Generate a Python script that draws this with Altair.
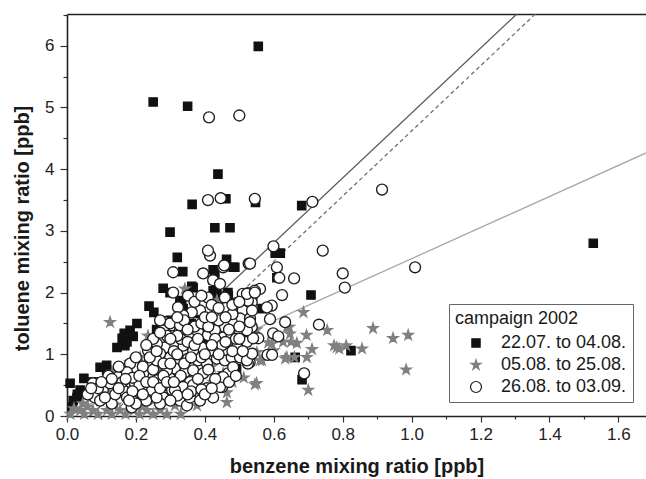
import altair as alt
import pandas as pd

# ---------------- data ----------------
periods = ["22.07. to 04.08.", "05.08. to 25.08.", "26.08. to 03.09."]

squares = [
    (0.555, 5.99), (0.25, 5.09), (0.35, 5.02), (0.438, 3.92), (0.363, 3.43), (0.461, 3.52),
    (0.547, 3.46), (0.681, 3.41), (0.299, 2.98), (0.429, 3.05), (0.473, 3.05), (1.527, 2.80),
    (0.824, 1.06), (0.604, 2.64), (0.619, 2.64), (0.609, 2.24), (0.708, 1.96), (0.566, 1.74),
    (0.682, 0.59), (0.662, 0.95), (0.009, 0.53), (0.049, 0.61), (0.038, 0.42), (0.03, 0.35),
    (0.08, 0.55), (0.096, 0.79), (0.115, 0.82), (0.145, 1.11), (0.16, 1.26), (0.166, 1.34),
    (0.183, 1.39), (0.203, 1.5), (0.192, 1.29), (0.168, 1.14), (0.238, 1.78), (0.252, 1.68),
    (0.279, 2.07), (0.32, 2.57), (0.336, 2.34), (0.333, 1.85), (0.337, 1.74), (0.366, 2.08),
    (0.424, 2.37), (0.424, 2.03), (0.463, 2.54), (0.487, 2.41), (0.507, 1.91), (0.468, 1.95),
    (0.386, 1.66), (0.44, 1.66), (0.417, 0.35), (0.492, 0.77), (0.468, 0.95), (0.429, 2.31),
    (0.424, 2.2), (0.299, 2.0), (0.328, 1.82), (0.115, 0.74), (0.072, 0.55), (0.029, 0.30),
    (0.018, 0.25), (0.015, 0.15), (0.174, 1.20), (0.482, 2.41), (0.362, 2.1), (0.328, 1.87),
    (0.334, 1.71), (0.30, 1.55), (0.36, 1.5), (0.45, 1.45), (0.26, 1.4), (0.5, 1.5),
    (0.40, 1.2), (0.435, 1.98), (0.467, 2.0),
]

stars = [
    (0.755, 1.39), (0.888, 1.42), (0.946, 1.26), (0.99, 1.31), (0.775, 1.14), (0.79, 1.09),
    (0.81, 1.14), (0.856, 1.09), (0.984, 0.75), (0.686, 1.68), (0.695, 1.31), (0.645, 1.44),
    (0.627, 1.20), (0.667, 1.18), (0.711, 1.08), (0.696, 0.95), (0.633, 0.93), (0.594, 1.17),
    (0.56, 0.90), (0.513, 0.62), (0.545, 0.51), (0.70, 0.42), (0.66, 0.95), (0.125, 1.52),
    (0.313, 0.17), (0.377, 0.17), (0.464, 0.22), (0.55, 0.53), (0.386, 0.37), (0.424, 0.55),
    (0.44, 0.48), (0.48, 0.55), (0.464, 0.38), (0.638, 1.44), (0.65, 1.2), (0.584, 1.19),
    (0.6, 1.06), (0.783, 1.11), (0.551, 1.03), (0.566, 0.9), (0.638, 0.95), (0.453, 0.69),
    (0.647, 1.33), (0.235, 1.30), (0.212, 0.95), (0.183, 0.87), (0.134, 0.71), (0.11, 0.58),
    (0.087, 0.42), (0.067, 0.3), (0.046, 0.2), (0.038, 0.09), (0.075, 0.09), (0.116, 0.09),
    (0.154, 0.09), (0.193, 0.09), (0.232, 0.09), (0.27, 0.09), (0.096, 0.25), (0.134, 0.3),
    (0.174, 0.36), (0.212, 0.53), (0.164, 0.5), (0.116, 0.45), (0.25, 0.25), (0.27, 0.69),
    (0.01, 0.03), (0.05, 0.03), (0.09, 0.03), (0.13, 0.03), (0.17, 0.03), (0.21, 0.03),
    (0.25, 0.03), (0.29, 0.03), (0.33, 0.03), (0.02, 0.12), (0.06, 0.15), (0.14, 0.18),
    (0.35, 0.6), (0.42, 0.8), (0.46, 0.9), (0.38, 1.0), (0.5, 1.1), (0.3, 0.45),
    (0.47, 1.2), (0.52, 1.3), (0.55, 1.4), (0.43, 1.55), (0.5, 1.7), (0.342, 2.06),
    (0.435, 1.87), (0.28, 0.35), (0.22, 0.15), (0.31, 0.3),
]

circles = [
    (0.412, 4.84), (0.5, 4.87), (0.409, 3.5), (0.446, 3.53), (0.545, 3.52), (0.712, 3.47),
    (0.914, 3.67), (0.742, 2.68), (1.01, 2.41), (0.80, 2.31), (0.806, 2.08), (0.599, 2.75),
    (0.609, 2.41), (0.616, 2.24), (0.659, 2.23), (0.527, 2.47), (0.624, 1.96), (0.594, 1.79),
    (0.58, 1.76), (0.589, 1.57), (0.633, 1.52), (0.731, 1.48), (0.598, 1.34), (0.613, 1.29),
    (0.582, 0.99), (0.595, 0.99), (0.688, 0.69), (0.56, 2.06), (0.545, 2.03), (0.536, 1.92),
    (0.525, 1.99), (0.555, 1.26), (0.536, 1.44), (0.52, 1.55), (0.53, 0.87),
    (0.415, 2.6), (0.409, 2.68), (0.308, 2.33), (0.395, 2.31), (0.453, 2.41), (0.456, 2.44),
    (0.424, 2.2), (0.444, 2.14), (0.308, 2.0), (0.351, 1.95), (0.409, 1.92), (0.458, 1.92),
    (0.487, 1.82), (0.51, 1.98), (0.536, 1.84), (0.51, 1.71), (0.502, 1.58), (0.531, 1.58),
    (0.478, 1.52), (0.458, 1.44), (0.435, 1.66), (0.406, 1.55), (0.386, 1.71), (0.362, 1.68),
    (0.337, 1.63), (0.322, 1.76), (0.305, 1.47), (0.284, 1.52), (0.328, 1.39), (0.357, 1.31),
    (0.38, 1.36), (0.409, 1.31), (0.429, 1.39), (0.453, 1.27), (0.478, 1.31), (0.502, 1.36),
    (0.522, 1.2), (0.493, 1.11), (0.464, 1.06), (0.438, 1.11), (0.415, 1.06), (0.391, 1.11),
    (0.366, 1.06), (0.337, 1.14), (0.308, 1.17), (0.284, 1.11), (0.299, 0.95), (0.328, 0.90),
    (0.351, 0.93), (0.38, 0.90), (0.406, 0.85), (0.435, 0.93), (0.458, 0.90), (0.478, 0.95),
    (0.507, 0.95), (0.525, 0.85), (0.313, 0.77), (0.342, 0.71), (0.366, 0.74), (0.395, 0.69),
    (0.45, 0.63), (0.467, 0.69), (0.328, 0.58), (0.357, 0.55), (0.299, 0.61), (0.284, 0.50),
    (0.337, 0.47), (0.366, 0.50), (0.45, 0.47), (0.305, 0.42),
    (0.075, 0.53), (0.081, 0.30), (0.104, 0.42), (0.13, 0.20), (0.125, 0.53), (0.148, 0.63),
    (0.163, 0.42), (0.183, 0.85), (0.174, 0.71), (0.197, 0.53), (0.212, 0.37), (0.221, 0.69),
    (0.241, 0.87), (0.235, 1.06), (0.261, 1.17), (0.27, 1.01), (0.261, 0.58), (0.247, 0.42),
    (0.279, 0.30), (0.29, 0.74), (0.279, 1.39), (0.299, 1.5), (0.328, 1.47), (0.174, 0.30),
    (0.188, 0.14), (0.096, 0.25), (0.313, 0.42), (0.328, 0.25), (0.348, 0.17), (0.357, 0.30),
    (0.386, 0.25), (0.424, 0.30), (0.406, 0.45), (0.444, 0.47), (0.453, 0.63), (0.482, 0.79),
    (0.502, 0.95), (0.522, 0.90), (0.537, 1.01), (0.54, 1.26), (0.522, 1.39), (0.531, 1.52),
    (0.537, 1.71), (0.525, 1.87), (0.522, 1.98), (0.545, 2.0), (0.531, 2.47),
    (0.2, 0.95), (0.22, 0.8), (0.25, 0.75), (0.26, 0.9), (0.28, 0.85), (0.31, 1.05),
    (0.33, 1.25), (0.35, 1.2), (0.37, 1.45), (0.39, 1.5), (0.41, 1.45), (0.43, 1.25),
    (0.45, 1.15), (0.47, 1.4), (0.49, 1.25), (0.39, 0.95), (0.41, 0.75), (0.43, 0.6),
    (0.38, 0.6), (0.36, 0.4), (0.39, 0.43), (0.32, 0.33), (0.27, 0.2), (0.23, 0.25),
    (0.21, 0.5), (0.16, 0.55), (0.14, 0.35), (0.11, 0.3), (0.19, 0.62), (0.2, 0.2),
    (0.26, 0.3), (0.3, 0.25), (0.34, 1.55), (0.37, 1.85), (0.39, 1.95), (0.42, 1.8),
    (0.46, 1.75), (0.48, 1.65), (0.5, 1.45), (0.44, 1.55), (0.32, 1.3), (0.29, 1.3),
    (0.27, 1.55), (0.25, 1.25), (0.23, 1.15),
    (0.06, 0.35), (0.09, 0.45), (0.12, 0.65), (0.15, 0.8), (0.17, 0.6), (0.19, 0.4),
    (0.21, 0.65), (0.23, 0.55), (0.24, 0.95), (0.26, 1.05), (0.28, 0.65), (0.3, 0.85),
    (0.32, 1.0), (0.34, 0.85), (0.36, 0.95), (0.37, 1.15), (0.4, 1.0), (0.42, 1.15),
    (0.44, 1.0), (0.46, 1.2), (0.48, 1.05), (0.5, 1.25), (0.51, 1.05), (0.38, 1.25),
    (0.4, 1.6), (0.42, 1.6), (0.44, 1.75), (0.46, 1.6), (0.48, 1.8), (0.5, 1.85),
    (0.35, 1.4), (0.32, 1.6), (0.3, 1.25), (0.27, 1.35), (0.25, 0.55), (0.27, 0.45),
    (0.29, 0.55), (0.33, 0.65), (0.35, 0.35), (0.4, 0.35), (0.42, 0.45), (0.47, 0.55),
    (0.49, 0.65), (0.31, 0.55), (0.22, 0.35), (0.18, 0.25), (0.15, 0.45), (0.13, 0.6),
    (0.1, 0.55), (0.07, 0.45),
]

# regression lines: slope, intercept
fit_names = ["fit solid", "fit dashed", "fit light"]
fit_slopes = [5.26, 5.28, 2.52]
fit_intercepts = [-0.35, -0.66, 0.03]

x_ticks_major = [0.0, 0.2, 0.4, 0.6, 0.8, 1.0, 1.2, 1.4, 1.6]
x_ticks_minor = [0.1, 0.3, 0.5, 0.7, 0.9, 1.1, 1.3, 1.5]
y_ticks_major = [0, 1, 2, 3, 4, 5, 6]
y_ticks_minor = [0.5, 1.5, 2.5, 3.5, 4.5, 5.5, 6.5]

X_MAX = 1.68
Y_MAX = 6.515

# ---------------- build tables ----------------
rows = []
for label, pts in zip(periods, [squares, stars, circles]):
    for x, y in pts:
        rows.append({"x": x, "y": y, "period": label})
df = pd.DataFrame(rows)

def line_df(m, b):
    x0 = max(0.0, -b / m)
    x1 = min(X_MAX, (Y_MAX - b) / m)
    return pd.DataFrame({"x": [x0, x1], "y": [m * x0 + b, m * x1 + b]})

l_solid = line_df(fit_slopes[0], fit_intercepts[0])
l_dash = line_df(fit_slopes[1], fit_intercepts[1])
l_light = line_df(fit_slopes[2], fit_intercepts[2])

xs = alt.Scale(domain=[0, X_MAX], nice=False, zero=False)
ys = alt.Scale(domain=[0, Y_MAX], nice=False, zero=False)

STAR = ("M0,-1.1L0.247,-0.34L1.046,-0.34L0.4,0.13L0.647,0.89L0,0.42"
        "L-0.647,0.89L-0.4,0.13L-1.046,-0.34L-0.247,-0.34Z")

FONT = "Liberation Sans"

minor_x = alt.Axis(orient="bottom", values=x_ticks_minor, labels=False, tickSize=3,
                   domain=False, grid=False, title=None, tickColor="#333", tickWidth=1.2)
minor_y = alt.Axis(orient="left", values=y_ticks_minor, labels=False, tickSize=4,
                   domain=False, grid=False, title=None, tickColor="#333", tickWidth=1.2)

top_x = alt.Axis(orient="top", labels=False, ticks=False, domain=True, grid=False,
                 title=None, domainColor="#222", domainWidth=1.6)

L1 = alt.Chart(l_solid).mark_line(color="#5a5a5a", strokeWidth=1.3, clip=True).encode(
    x=alt.X("x:Q", scale=xs, axis=minor_x),
    y=alt.Y("y:Q", scale=ys, axis=minor_y),
)
L2 = alt.Chart(l_dash).mark_line(color="#707070", strokeWidth=1.3, strokeDash=[4, 3], clip=True).encode(
    x=alt.X("x:Q", scale=xs, axis=top_x),
    y=alt.Y("y:Q", scale=ys, axis=None),
)
L3 = alt.Chart(l_light).mark_line(color="#a8a8a8", strokeWidth=1.3, clip=True).encode(
    x=alt.X("x:Q", scale=xs, axis=None),
    y=alt.Y("y:Q", scale=ys, axis=None),
)

leg = alt.Legend(
    orient="none", legendX=382, legendY=290, title="campaign 2002",
    titleFontSize=18, titleFontWeight="normal", titleFont=FONT, titleColor="#1a1a1a",
    labelFontSize=18, labelFont=FONT, labelColor="#1a1a1a",
    strokeColor="#666", fillColor="white", padding=6,
    symbolOffset=12, labelOffset=16, rowPadding=4, titlePadding=6,
    symbolStrokeWidth=1.2,
)

x_main = alt.Axis(orient="bottom", values=x_ticks_major, format=".1f", tickSize=6, labelPadding=4,
                  labelFontSize=17, labelColor="#222", labelFlush=False, labelOverlap=False,
                  title="benzene mixing ratio [ppb]", titleFontSize=20, titleFontWeight="bold",
                  titleColor="#1a1a1a", titleY=40, titleBaseline="top", grid=False,
                  domainColor="#222", domainWidth=1.6, tickColor="#333", tickWidth=1.2)
y_main = alt.Axis(orient="left", values=y_ticks_major, format="d", tickSize=7, labelPadding=6,
                  labelFontSize=17, labelColor="#222", labelOverlap=False,
                  title="toluene mixing ratio [ppb]", titleFontSize=20, titleFontWeight="bold",
                  titleColor="#1a1a1a", titleX=-45, titleY=214, titleAngle=270,
                  titleAlign="center", titleBaseline="middle", grid=False,
                  domainColor="#222", domainWidth=1.6, tickColor="#333", tickWidth=1.2)

P = alt.Chart(df).mark_point(filled=True, strokeWidth=1.35, opacity=1).encode(
    x=alt.X("x:Q", scale=xs, axis=x_main),
    y=alt.Y("y:Q", scale=ys, axis=y_main),
    shape=alt.Shape("period:N", scale=alt.Scale(domain=periods, range=["square", STAR, "circle"]), legend=leg),
    fill=alt.Fill("period:N", scale=alt.Scale(domain=periods, range=["#111111", "#808080", "#ffffff"]), legend=leg),
    stroke=alt.Stroke("period:N", scale=alt.Scale(domain=periods, range=["#111111", "#808080", "#1e1e1e"]), legend=leg),
    size=alt.Size("period:N", scale=alt.Scale(domain=periods, range=[68, 120, 92]), legend=leg),
)

chart = alt.layer(L1, L2, L3, P).resolve_axis(
    x="independent", y="independent"
).properties(
    width=579, height=402,
    autosize=alt.AutoSizeParams(type="none"),
    padding={"left": 67, "top": 14, "right": 0, "bottom": 63},
).configure(font=FONT).configure_view(strokeWidth=0)

chart.save("out.html", embed_options={"renderer": "svg", "actions": False})
